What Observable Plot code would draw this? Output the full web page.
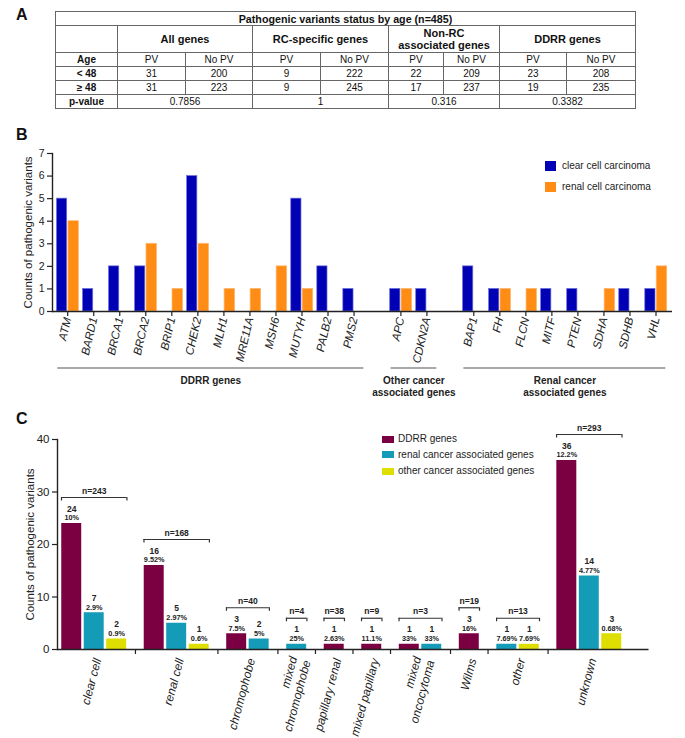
<!DOCTYPE html>
<html>
<head>
<meta charset="utf-8">
<script src="https://cdn.jsdelivr.net/npm/d3@7"></script>
<script src="https://cdn.jsdelivr.net/npm/@observablehq/plot@0.6"></script>
<style>
  body { margin: 0; background: #fff; font-family: "Liberation Sans", Arial, sans-serif; color: #222; }
  #root { position: relative; width: 685px; height: 738px; overflow: hidden; background: #fff; }
  .panel { position: absolute; font-weight: bold; font-size: 16px; line-height: 16px; color: #111; }
  #tbl { position: absolute; left: 55px; top: 11px; border-collapse: collapse; table-layout: fixed; font-size: 10px; color: #111; }
  #tbl td { border: 1px solid #666; text-align: center; padding: 0; line-height: 12px; height: 13px; overflow: hidden; white-space: pre-line; }
  #tbl td.b { font-weight: bold; }
  #tbl td.h { font-weight: bold; font-size: 11px; height: 26px; }
  #tbl td.t { font-weight: bold; font-size: 10.7px; }
  .plot { position: absolute; left: 0; }
  .leg { position: absolute; font-size: 10px; color: #222; white-space: nowrap; }
  .sw { position: absolute; }
</style>
</head>
<body>
<div id="root"></div>
<script>
// ---------- Panel A data ----------
const tableTitle = "Pathogenic variants status by age (n=485)";
const geneSets = ["All genes", "RC-specific genes", "Non-RC\nassociated genes", "DDRR genes"];
const subHeaders = ["PV", "No PV"];
const ageGroups = ["< 48", "\u2265 48"];
const pvUnder48 = [31, 9, 22, 23];
const noPvUnder48 = [200, 222, 209, 208];
const pvOver48 = [31, 9, 17, 19];
const noPvOver48 = [223, 245, 237, 235];
const pValues = ["0.7856", "1", "0.316", "0.3382"];

// ---------- Panel B data ----------
const genesDDRR = ["ATM", "BARD1", "BRCA1", "BRCA2", "BRIP1", "CHEK2", "MLH1", "MRE11A", "MSH6", "MUTYH", "PALB2", "PMS2"];
const genesOther = ["APC", "CDKN2A"];
const genesRenal = ["BAP1", "FH", "FLCN", "MITF", "PTEN", "SDHA", "SDHB", "VHL"];
const clearCellCounts = [5, 1, 2, 2, 0, 6, 0, 0, 0, 5, 2, 1, 1, 1, 2, 1, 0, 1, 1, 0, 1, 1];
const renalCellCounts = [4, 0, 0, 3, 1, 3, 1, 1, 2, 1, 0, 0, 1, 0, 0, 1, 1, 0, 0, 1, 0, 2];
const seriesB = ["clear cell carcinoma", "renal cell carcinoma"];
const groupLabelsB = ["DDRR genes", "Other cancer\nassociated genes", "Renal cancer\nassociated genes"];

// ---------- Panel C data ----------
const categoriesC = ["clear cell", "renal cell", "chromophobe", "mixed\nchromophobe", "papillary renal", "mixed papillary", "mixed\noncocytoma", "Wilms", "other", "unknown"];
const nTotals = [243, 168, 40, 4, 38, 9, 3, 19, 13, 293];
const ddrrCounts = [24, 16, 3, 0, 1, 1, 1, 3, 0, 36];
const ddrrPct = ["10%", "9.52%", "7.5%", "", "2.63%", "11.1%", "33%", "16%", "", "12.2%"];
const renalCounts = [7, 5, 2, 1, 0, 0, 1, 0, 1, 14];
const renalPct = ["2.9%", "2.97%", "5%", "25%", "", "", "33%", "", "7.69%", "4.77%"];
const otherCounts = [2, 1, 0, 0, 0, 0, 0, 0, 1, 3];
const otherPct = ["0.9%", "0.6%", "", "", "", "", "", "", "7.69%", "0.68%"];
const seriesC = ["DDRR genes", "renal cancer associated genes", "other cancer associated genes"];
const yLabel = "Counts of pathogenic variants";

// ---------- styles ----------
const blue = "#0000b5", orange = "#ff8c14";
const colorsC = ["#7b0041", "#149bb7", "#dede00"];
const axisColor = "#222";
const font = "'Liberation Sans', Arial, sans-serif";
const root = document.getElementById("root");

function addDiv(cls, text, css) {
  const d = document.createElement("div");
  d.className = cls;
  if (text != null) d.textContent = text;
  Object.assign(d.style, css);
  root.appendChild(d);
  return d;
}

// ---------- Panel A ----------
addDiv("panel", "A", {left: "16px", top: "7px"});
{
  const t = document.createElement("table");
  t.id = "tbl";
  const widths = [62, 68, 67, 68, 68, 55, 56, 67, 69];
  const cg = document.createElement("colgroup");
  widths.forEach(w => { const c = document.createElement("col"); c.style.width = w + "px"; cg.appendChild(c); });
  t.appendChild(cg);
  const row = (cells) => {
    const tr = document.createElement("tr");
    cells.forEach(([txt, cls, span]) => {
      const td = document.createElement("td");
      td.textContent = txt;
      if (cls) td.className = cls;
      if (span) td.colSpan = span;
      tr.appendChild(td);
    });
    t.appendChild(tr);
  };
  row([[tableTitle, "t", 9]]);
  row([["", "h"], ...geneSets.map(g => [g, "h", 2])]);
  row([["Age", "b"], ...geneSets.flatMap(() => subHeaders.map(s => [s]))]);
  row([[ageGroups[0], "b"], ...geneSets.flatMap((g, i) => [[String(pvUnder48[i])], [String(noPvUnder48[i])]])]);
  row([[ageGroups[1], "b"], ...geneSets.flatMap((g, i) => [[String(pvOver48[i])], [String(noPvOver48[i])]])]);
  row([["p-value", "b"], ...pValues.map(p => [p, null, 2])]);
  root.appendChild(t);
}

// ---------- Panel B ----------
addDiv("panel", "B", {left: "16px", top: "127px"});
const GAP_B = 1.8;
const geneRows = [];
const groupsB = [genesDDRR, genesOther, genesRenal].map((genes, k) => ({label: groupLabelsB[k], genes}));
{
  let cur = 0;
  groupsB.forEach((g, k) => {
    if (k) cur += GAP_B - 1;
    g.first = cur;
    g.genes.forEach(name => { geneRows.push({gene: name, pos: cur}); cur += 1; });
    g.last = cur - 1;
  });
}
geneRows.forEach((r, i) => { r.clear = clearCellCounts[i]; r.renal = renalCellCounts[i]; });
const lastPos = geneRows[geneRows.length - 1].pos;
const nameAt = new Map(geneRows.map(r => [r.pos, r.gene]));

const plotB = Plot.plot({
  width: 685, height: 270,
  marginLeft: 52, marginRight: 13, marginTop: 23, marginBottom: 89,
  x: {domain: [0, lastPos], range: [67.2, 655.5]},
  y: {domain: [0, 7]},
  style: {fontFamily: font, color: "#222", background: "transparent", overflow: "visible"},
  marks: [
    Plot.rectY(geneRows.filter(r => r.clear > 0), {x1: r => r.pos - 0.5, x2: r => r.pos, y: "clear", fill: blue, stroke: "#7070dc", strokeWidth: 0.7, insetLeft: 2.3, insetRight: 0.5}),
    Plot.rectY(geneRows.filter(r => r.renal > 0), {x1: r => r.pos, x2: r => r.pos + 0.5, y: "renal", fill: orange, stroke: "#ffb870", strokeWidth: 0.7, insetLeft: 0.7, insetRight: 1.8}),
    Plot.ruleY([0], {stroke: axisColor, strokeWidth: 1.4}),
    Plot.frame({anchor: "left", stroke: axisColor, strokeWidth: 1.4}),
    Plot.axisY({ticks: d3.range(0, 8), tickFormat: d => String(d), tickSize: 5, tickPadding: 3, fontSize: 10.5, label: null, strokeWidth: 1.2}),
    Plot.axisX({ticks: geneRows.map(r => r.pos), tickFormat: p => nameAt.get(p), tickRotate: -77, tickSize: 5, tickPadding: 1, fontSize: 11.5, fontStyle: "italic", label: null, strokeWidth: 1.2}),
    Plot.text([yLabel], {frameAnchor: "left", textAnchor: "middle", dx: -24, rotate: -90, fontSize: 11.5}),
    Plot.ruleY(groupsB, {x1: g => g.first - 0.38, x2: g => g.last + 0.38, y: () => 0, dy: 56.5, stroke: "#555", strokeWidth: 1.2}),
    Plot.text(groupsB, {x: g => (g.first + g.last) / 2, y: () => 0, text: "label", dy: 64.5, lineAnchor: "top", fontWeight: "bold", fontSize: 10, lineHeight: 1.17})
  ]
});
plotB.classList.add("plot");
plotB.style.top = "130px";
root.appendChild(plotB);

// legend B
[blue, orange].forEach((c, i) => {
  addDiv("sw", null, {left: "545px", top: (160.5 + i * 21) + "px", width: "11px", height: "10.5px", background: c});
  addDiv("leg", seriesB[i], {left: "562px", top: (159.5 + i * 21) + "px", lineHeight: "12px"});
});

// ---------- Panel C ----------
addDiv("panel", "C", {left: "16px", top: "411px"});
const GAP_C = 0.67;
const barsC = [];
const catsC = [];
{
  let cur = 0;
  const counts = [ddrrCounts, renalCounts, otherCounts];
  const pcts = [ddrrPct, renalPct, otherPct];
  categoriesC.forEach((cat, k) => {
    if (k) cur += GAP_C;
    const start = cur;
    let max = 0;
    seriesC.forEach((s, j) => {
      const v = counts[j][k];
      if (v > 0) {
        barsC.push({cat, series: s, value: v, pct: pcts[j][k], x1: cur, x2: cur + 1});
        cur += 1;
        max = Math.max(max, v);
      }
    });
    catsC.push({label: cat, n: "n=" + nTotals[k], start, end: cur, max});
  });
}
const totalC = catsC[catsC.length - 1].end;
const gapMids = catsC.slice(1).map((c, i) => (catsC[i].end + c.start) / 2);

const plotC = Plot.plot({
  width: 685, height: 328,
  marginLeft: 57, marginRight: 36.5, marginTop: 29, marginBottom: 89,
  x: {domain: [0, totalC], range: [60, 622.5]},
  y: {domain: [0, 40]},
  color: {domain: seriesC, range: colorsC},
  style: {fontFamily: font, color: "#222", background: "transparent", overflow: "visible"},
  marks: [
    Plot.rectY(barsC, {x1: "x1", x2: "x2", y: "value", fill: "series", insetLeft: 1.25, insetRight: 1.25}),
    Plot.ruleY([0], {stroke: axisColor, strokeWidth: 1.4}),
    Plot.frame({anchor: "left", stroke: axisColor, strokeWidth: 1.4}),
    Plot.axisY({ticks: [0, 10, 20, 30, 40], tickFormat: d => String(d), tickSize: 5, tickPadding: 3, fontSize: 11.5, label: null, strokeWidth: 1.2}),
    Plot.axisX({ticks: gapMids, tickFormat: () => "", tickSize: 5, label: null, strokeWidth: 1.2}),
    Plot.text([yLabel], {frameAnchor: "left", textAnchor: "middle", dx: -27, rotate: -90, fontSize: 11.5}),
    Plot.text(barsC, {x: d => (d.x1 + d.x2) / 2, y: "value", text: d => String(d.value), dy: -14.5, fontWeight: "bold", fontSize: 8.5}),
    Plot.text(barsC, {x: d => (d.x1 + d.x2) / 2, y: "value", text: "pct", dy: -5.5, fontWeight: "bold", fontSize: 7.3}),
    Plot.ruleY(catsC, {x1: "start", x2: "end", y: "max", dy: -26, insetLeft: 1, insetRight: 1, stroke: "#333", strokeWidth: 1.2}),
    Plot.ruleX(catsC, {x: "start", y1: "max", y2: "max", dy: -26, dx: 1, insetBottom: -3.5, stroke: "#333", strokeWidth: 1.2}),
    Plot.ruleX(catsC, {x: "end", y1: "max", y2: "max", dy: -26, dx: -1, insetBottom: -3.5, stroke: "#333", strokeWidth: 1.2}),
    Plot.text(catsC, {x: d => (d.start + d.end) / 2, y: "max", text: "n", dy: -32.5, fontWeight: "bold", fontSize: 8.5}),
    Plot.text(catsC, {x: d => (d.start + d.end) / 2, y: () => 0, text: "label", rotate: -75, textAnchor: "end", dx: 3, dy: 9, fontSize: 12, fontStyle: "italic", lineHeight: 1.15})
  ]
});
plotC.classList.add("plot");
plotC.style.top = "410px";
root.appendChild(plotC);

// legend C
colorsC.forEach((c, i) => {
  const cy = [439, 454.5, 471][i];
  addDiv("sw", null, {left: "382px", top: (cy - 3.5) + "px", width: "12px", height: "7px", background: c});
  addDiv("leg", seriesC[i], {left: "398px", top: (cy - 6) + "px", lineHeight: "12px"});
});
</script>
</body>
</html>
